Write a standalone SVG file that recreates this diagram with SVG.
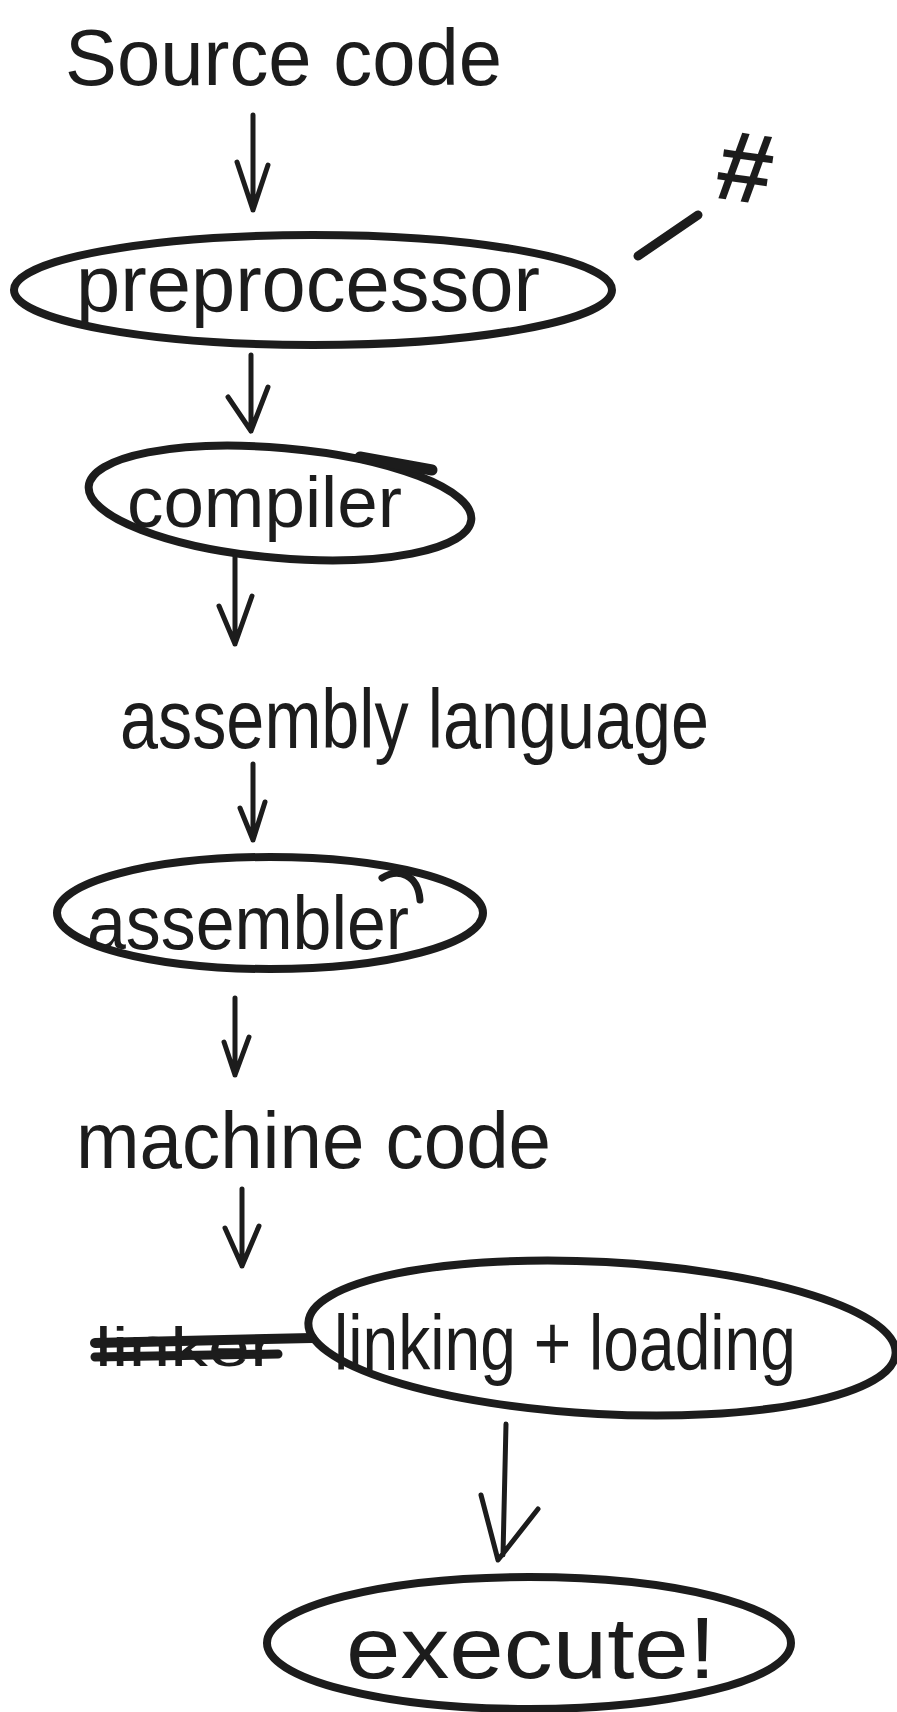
<svg xmlns="http://www.w3.org/2000/svg" width="897" height="1712" viewBox="0 0 897 1712">
  <style>
    .ink { fill: none; stroke: #1c1c1c; stroke-linecap: round; stroke-linejoin: round; }
    .oval { stroke-width: 8; }
    .arrow { stroke-width: 5; }
    .lbl { font-family: "Liberation Sans", "DejaVu Sans", sans-serif; fill: #1c1c1c; }
  </style>
  <rect width="897" height="1712" fill="#ffffff"/>

  <g id="source-code">
    <text class="lbl" x="65" y="85" font-size="80" textLength="437" lengthAdjust="spacingAndGlyphs">Source code</text>
  </g>

  <g id="preprocessor">
    <ellipse class="ink oval" cx="313" cy="290" rx="299" ry="55"/>
    <text class="lbl" x="76" y="311" font-size="80" textLength="464" lengthAdjust="spacingAndGlyphs">preprocessor</text>
  </g>

  <g id="hash">
    <text class="lbl" x="718" y="203" font-size="100" font-weight="bold" transform="rotate(8 755 165)">#</text>
  </g>

  <g id="compiler">
    <ellipse class="ink oval" cx="280" cy="503" rx="192" ry="55" transform="rotate(5 280 503)"/>
    <path class="ink" d="M360 457 L432 470" stroke-width="11"/>
    <text class="lbl" x="127" y="527" font-size="72" textLength="275" lengthAdjust="spacingAndGlyphs">compiler</text>
  </g>

  <g id="assembly-language">
    <text class="lbl" x="120" y="748" font-size="84" textLength="589" lengthAdjust="spacingAndGlyphs">assembly language</text>
  </g>

  <g id="assembler">
    <ellipse class="ink oval" cx="270" cy="913" rx="213" ry="56"/>
    <path class="ink" d="M382 878 C 398 868, 418 874, 420 900" stroke-width="7"/>
    <text class="lbl" x="87" y="949" font-size="76" textLength="322" lengthAdjust="spacingAndGlyphs">assembler</text>
  </g>

  <g id="machine-code">
    <text class="lbl" x="76" y="1168" font-size="80" textLength="475" lengthAdjust="spacingAndGlyphs">machine code</text>
  </g>

  <g id="linker-crossed">
    <text class="lbl" x="95" y="1366" font-size="56" textLength="180" lengthAdjust="spacingAndGlyphs">linker</text>
    <path class="ink" d="M95 1343 L312 1338" stroke-width="10"/>
    <path class="ink" d="M95 1357 L278 1354" stroke-width="9"/>
  </g>

  <g id="linking-loading">
    <ellipse class="ink oval" cx="602" cy="1338" rx="294" ry="76" transform="rotate(3 602 1338)"/>
    <text class="lbl" x="334" y="1370" font-size="78" textLength="462" lengthAdjust="spacingAndGlyphs">linking + loading</text>
  </g>

  <g id="execute">
    <ellipse class="ink oval" cx="529" cy="1643" rx="262" ry="66"/>
    <text class="lbl" x="346" y="1678" font-size="88" textLength="370" lengthAdjust="spacingAndGlyphs">execute!</text>
  </g>

  <g id="connectors">
    <path class="ink arrow" d="M253 115 L253 210 M237 162 L253 210 L268 165"/>
    <path class="ink arrow" d="M251 355 L251 431 M228 397 L251 431 L268 387"/>
    <path class="ink arrow" d="M235 557 L235 644 M219 606 L235 644 L252 596"/>
    <path class="ink arrow" d="M253 764 L253 840 M240 808 L253 840 L265 802"/>
    <path class="ink arrow" d="M235 998 L235 1075 M224 1042 L235 1075 L249 1037"/>
    <path class="ink arrow" d="M242 1189 L242 1266 M225 1228 L242 1266 L259 1226"/>
    <path class="ink arrow" d="M506 1424 L503 1555 M481 1495 L498 1560 L538 1509"/>
    <path class="ink" d="M638 256 L698 215" stroke-width="9"/>
  </g>
</svg>
